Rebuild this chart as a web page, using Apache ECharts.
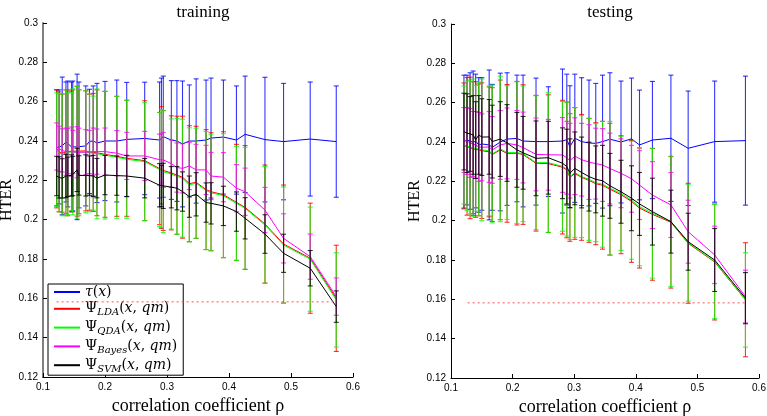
<!DOCTYPE html>
<html><head><meta charset="utf-8">
<script src="https://cdn.jsdelivr.net/npm/echarts@6/dist/echarts.min.js"></script>
<style>html,body{margin:0;padding:0;background:#fff}#c{width:767px;height:416px}</style>
</head><body><div id="c"></div>
<script>
// ---------- training panel ----------
const trainX = [0.122, 0.126, 0.131, 0.137, 0.140, 0.146, 0.148, 0.155, 0.158, 0.169, 0.175, 0.181, 0.187, 0.200, 0.219, 0.235, 0.264, 0.288, 0.291, 0.294, 0.307, 0.316, 0.325, 0.336, 0.347, 0.363, 0.371, 0.391, 0.412, 0.426, 0.458, 0.488, 0.531, 0.573];
const trainTauMean = [0.2365, 0.2370, 0.2375, 0.2395, 0.2385, 0.2370, 0.2375, 0.2370, 0.2380, 0.2375, 0.2398, 0.2400, 0.2390, 0.2400, 0.2400, 0.2408, 0.2413, 0.2405, 0.2400, 0.2422, 0.2405, 0.2400, 0.2385, 0.2400, 0.2400, 0.2405, 0.2415, 0.2420, 0.2405, 0.2434, 0.2407, 0.2397, 0.2410, 0.2397];
const trainTauStd = [0.0295, 0.0290, 0.0350, 0.0305, 0.0320, 0.0330, 0.0330, 0.0370, 0.0320, 0.0305, 0.0265, 0.0280, 0.0303, 0.0303, 0.0310, 0.0290, 0.0286, 0.0295, 0.0320, 0.0308, 0.0302, 0.0307, 0.0320, 0.0285, 0.0316, 0.0305, 0.0305, 0.0290, 0.0275, 0.0296, 0.0317, 0.0296, 0.0290, 0.0283];
const trainLdaMean = [0.2360, 0.2345, 0.2338, 0.2345, 0.2340, 0.2348, 0.2350, 0.2348, 0.2345, 0.2350, 0.2343, 0.2342, 0.2340, 0.2332, 0.2322, 0.2312, 0.2300, 0.2260, 0.2265, 0.2250, 0.2238, 0.2226, 0.2216, 0.2183, 0.2190, 0.2153, 0.2142, 0.2127, 0.2088, 0.2062, 0.1978, 0.1876, 0.1804, 0.1600];
const trainLdaStd = [0.0300, 0.0305, 0.0300, 0.0315, 0.0320, 0.0305, 0.0310, 0.0330, 0.0315, 0.0305, 0.0295, 0.0300, 0.0320, 0.0320, 0.0305, 0.0295, 0.0305, 0.0285, 0.0310, 0.0305, 0.0290, 0.0300, 0.0310, 0.0295, 0.0285, 0.0305, 0.0300, 0.0320, 0.0295, 0.0315, 0.0300, 0.0300, 0.0280, 0.0270];
const trainQdaMean = [0.2355, 0.2340, 0.2330, 0.2340, 0.2335, 0.2345, 0.2345, 0.2343, 0.2340, 0.2345, 0.2340, 0.2338, 0.2335, 0.2328, 0.2317, 0.2307, 0.2295, 0.2255, 0.2260, 0.2244, 0.2232, 0.2220, 0.2211, 0.2177, 0.2185, 0.2148, 0.2137, 0.2122, 0.2083, 0.2058, 0.1973, 0.1871, 0.1799, 0.1592];
const trainQdaStd = [0.0290, 0.0300, 0.0310, 0.0320, 0.0310, 0.0300, 0.0320, 0.0335, 0.0320, 0.0310, 0.0300, 0.0290, 0.0330, 0.0325, 0.0310, 0.0300, 0.0300, 0.0290, 0.0300, 0.0310, 0.0280, 0.0295, 0.0300, 0.0290, 0.0280, 0.0300, 0.0295, 0.0315, 0.0290, 0.0310, 0.0297, 0.0295, 0.0265, 0.0240];
const trainBayesMean = [0.2372, 0.2360, 0.2352, 0.2346, 0.2348, 0.2346, 0.2344, 0.2343, 0.2345, 0.2343, 0.2344, 0.2346, 0.2346, 0.2346, 0.2338, 0.2324, 0.2324, 0.2305, 0.2312, 0.2304, 0.2285, 0.2265, 0.2261, 0.2273, 0.2253, 0.2253, 0.2222, 0.2216, 0.2160, 0.2142, 0.2049, 0.1905, 0.1812, 0.1609];
const trainBayesStd = [0.0120, 0.0115, 0.0110, 0.0120, 0.0115, 0.0125, 0.0110, 0.0130, 0.0120, 0.0115, 0.0110, 0.0120, 0.0115, 0.0120, 0.0115, 0.0120, 0.0125, 0.0130, 0.0125, 0.0140, 0.0120, 0.0125, 0.0125, 0.0120, 0.0130, 0.0125, 0.0120, 0.0125, 0.0120, 0.0120, 0.0115, 0.0125, 0.0115, 0.0095];
const trainSvmMean = [0.2222, 0.2215, 0.2210, 0.2222, 0.2218, 0.2225, 0.2222, 0.2253, 0.2225, 0.2225, 0.2224, 0.2222, 0.2211, 0.2227, 0.2224, 0.2222, 0.2211, 0.2175, 0.2171, 0.2172, 0.2165, 0.2160, 0.2143, 0.2117, 0.2129, 0.2087, 0.2083, 0.2070, 0.2041, 0.2007, 0.1927, 0.1829, 0.1753, 0.1558];
const trainSvmStd = [0.0100, 0.0105, 0.0100, 0.0110, 0.0100, 0.0105, 0.0100, 0.0110, 0.0100, 0.0105, 0.0100, 0.0105, 0.0100, 0.0100, 0.0100, 0.0105, 0.0100, 0.0110, 0.0105, 0.0115, 0.0105, 0.0110, 0.0100, 0.0105, 0.0110, 0.0100, 0.0105, 0.0100, 0.0100, 0.0105, 0.0098, 0.0097, 0.0090, 0.0080];
const trainChance = [[0.122, 0.1582], [0.573, 0.1582]];

// ---------- testing panel ----------
const testX = [0.121, 0.126, 0.131, 0.136, 0.140, 0.145, 0.150, 0.162, 0.167, 0.180, 0.191, 0.207, 0.217, 0.238, 0.258, 0.281, 0.288, 0.293, 0.301, 0.312, 0.324, 0.335, 0.346, 0.358, 0.376, 0.393, 0.406, 0.427, 0.457, 0.485, 0.528, 0.578];
const testTauMean = [0.2402, 0.2410, 0.2405, 0.2398, 0.2405, 0.2385, 0.2390, 0.2385, 0.2373, 0.2400, 0.2415, 0.2418, 0.2405, 0.2402, 0.2402, 0.2405, 0.2412, 0.2376, 0.2419, 0.2402, 0.2395, 0.2393, 0.2402, 0.2414, 0.2400, 0.2416, 0.2385, 0.2410, 0.2419, 0.2368, 0.2402, 0.2407];
const testTauStd = [0.0338, 0.0330, 0.0347, 0.0363, 0.0340, 0.0342, 0.0337, 0.0381, 0.0320, 0.0350, 0.0337, 0.0322, 0.0335, 0.0323, 0.0279, 0.0366, 0.0333, 0.0310, 0.0326, 0.0325, 0.0320, 0.0305, 0.0338, 0.0338, 0.0310, 0.0309, 0.0279, 0.0298, 0.0321, 0.0291, 0.0308, 0.0328];
const testLdaMean = [0.2380, 0.2378, 0.2370, 0.2366, 0.2362, 0.2360, 0.2356, 0.2350, 0.2336, 0.2360, 0.2342, 0.2343, 0.2336, 0.2292, 0.2290, 0.2272, 0.2258, 0.2220, 0.2240, 0.2220, 0.2205, 0.2188, 0.2180, 0.2160, 0.2132, 0.2098, 0.2064, 0.2032, 0.1992, 0.1885, 0.1790, 0.1598];
const testLdaStd = [0.0320, 0.0350, 0.0360, 0.0340, 0.0345, 0.0335, 0.0345, 0.0330, 0.0340, 0.0355, 0.0350, 0.0365, 0.0355, 0.0345, 0.0350, 0.0340, 0.0345, 0.0325, 0.0335, 0.0320, 0.0315, 0.0310, 0.0325, 0.0335, 0.0300, 0.0310, 0.0305, 0.0335, 0.0335, 0.0305, 0.0295, 0.0290];
const testQdaMean = [0.2385, 0.2380, 0.2375, 0.2370, 0.2368, 0.2365, 0.2360, 0.2355, 0.2339, 0.2365, 0.2346, 0.2346, 0.2340, 0.2295, 0.2295, 0.2276, 0.2262, 0.2224, 0.2245, 0.2224, 0.2210, 0.2193, 0.2185, 0.2165, 0.2139, 0.2104, 0.2071, 0.2038, 0.1995, 0.1888, 0.1792, 0.1597];
const testQdaStd = [0.0300, 0.0330, 0.0340, 0.0350, 0.0320, 0.0340, 0.0360, 0.0330, 0.0350, 0.0370, 0.0340, 0.0360, 0.0345, 0.0340, 0.0355, 0.0330, 0.0340, 0.0320, 0.0330, 0.0310, 0.0310, 0.0300, 0.0320, 0.0340, 0.0290, 0.0300, 0.0300, 0.0330, 0.0330, 0.0297, 0.0290, 0.0240];
const testBayesMean = [0.2410, 0.2405, 0.2395, 0.2390, 0.2385, 0.2375, 0.2373, 0.2375, 0.2360, 0.2385, 0.2393, 0.2385, 0.2372, 0.2337, 0.2335, 0.2334, 0.2320, 0.2305, 0.2328, 0.2310, 0.2298, 0.2290, 0.2283, 0.2265, 0.2241, 0.2213, 0.2181, 0.2130, 0.2080, 0.1944, 0.1826, 0.1614];
const testBayesStd = [0.0165, 0.0170, 0.0175, 0.0165, 0.0170, 0.0175, 0.0170, 0.0180, 0.0170, 0.0175, 0.0180, 0.0175, 0.0180, 0.0185, 0.0180, 0.0190, 0.0185, 0.0190, 0.0195, 0.0185, 0.0190, 0.0180, 0.0185, 0.0180, 0.0175, 0.0170, 0.0175, 0.0170, 0.0165, 0.0160, 0.0146, 0.0134];
const testSvmMean = [0.2453, 0.2445, 0.2441, 0.2436, 0.2410, 0.2436, 0.2425, 0.2426, 0.2402, 0.2415, 0.2395, 0.2360, 0.2345, 0.2317, 0.2320, 0.2292, 0.2275, 0.2241, 0.2266, 0.2245, 0.2224, 0.2210, 0.2203, 0.2177, 0.2147, 0.2114, 0.2085, 0.2046, 0.1995, 0.1893, 0.1800, 0.1606];
const testSvmStd = [0.0195, 0.0200, 0.0190, 0.0200, 0.0195, 0.0200, 0.0195, 0.0190, 0.0185, 0.0190, 0.0195, 0.0190, 0.0185, 0.0190, 0.0185, 0.0180, 0.0190, 0.0175, 0.0185, 0.0180, 0.0175, 0.0170, 0.0180, 0.0165, 0.0160, 0.0165, 0.0160, 0.0170, 0.0160, 0.0145, 0.0160, 0.0130];
const testChance = [[0.127, 0.1582], [0.578, 0.1582]];

// ---------- labels ----------
const panelTitles = ['training', 'testing'];
const xAxisName = 'correlation coefficient \u03c1';
const yAxisName = 'HTER';
const methodNames = ['tau', 'LDA', 'QDA', 'Bayes', 'SVM'];
const methodColors = ['#0000ff', '#ff0000', '#00ff00', '#ff00ff', '#000000'];
const legendRich = {
  tau: '{i|\u03c4}{n|(}{i|x}{n|)}',
  LDA: '{n|\u03a8}{s|LDA}{n|(}{i|x}{n|, }{i|qm}{n|)}',
  QDA: '{n|\u03a8}{s|QDA}{n|(}{i|x}{n|, }{i|qm}{n|)}',
  Bayes: '{n|\u03a8}{s|Bayes}{n|(}{i|x}{n|, }{i|qm}{n|)}',
  SVM: '{n|\u03a8}{s|SVM}{n|(}{i|x}{n|, }{i|qm}{n|)}'
};

const panels = [
  {x: trainX, means: [trainTauMean, trainLdaMean, trainQdaMean, trainBayesMean, trainSvmMean],
   stds: [trainTauStd, trainLdaStd, trainQdaStd, trainBayesStd, trainSvmStd], chance: trainChance},
  {x: testX, means: [testTauMean, testLdaMean, testQdaMean, testBayesMean, testSvmMean],
   stds: [testTauStd, testLdaStd, testQdaStd, testBayesStd, testSvmStd], chance: testChance}
];

const SERIF = "'Liberation Serif', 'DejaVu Serif', serif";
const LSERIF = "'DejaVu Serif', 'Liberation Serif', serif";
const SANS = "'Liberation Sans', Arial, sans-serif";

function errRender(color) {
  return function (params, api) {
    const x = api.value(0), m = api.value(1), s = api.value(2);
    const t = api.coord([x, m + s]);
    const b = api.coord([x, m - s]);
    const w = 2.5;
    const st = {stroke: color, lineWidth: 1.1, opacity: 0.8};
    return {type: 'group', children: [
      {type: 'line', shape: {x1: t[0], y1: t[1], x2: b[0], y2: b[1]}, style: st},
      {type: 'line', shape: {x1: t[0] - w, y1: t[1], x2: t[0] + w, y2: t[1]}, style: st},
      {type: 'line', shape: {x1: b[0] - w, y1: b[1], x2: b[0] + w, y2: b[1]}, style: st}
    ]};
  };
}

const series = [];
panels.forEach((p, pi) => {
  methodNames.forEach((name, mi) => {
    const color = methodColors[mi];
    series.push({
      type: 'custom', name: name + '_err' + pi, xAxisIndex: pi, yAxisIndex: pi,
      data: p.x.map((x, i) => [x, p.means[mi][i], p.stds[mi][i]]),
      encode: {x: 0, y: 1}, renderItem: errRender(color), silent: true, z: 2 + mi
    });
    series.push({
      type: 'line', name: name, xAxisIndex: pi, yAxisIndex: pi,
      data: p.x.map((x, i) => [x, p.means[mi][i]]),
      showSymbol: false, symbol: 'none',
      lineStyle: {color: color, width: 1}, itemStyle: {color: color}, z: 2 + mi
    });
  });
  series.push({
    type: 'line', name: 'chance' + pi, xAxisIndex: pi, yAxisIndex: pi,
    data: p.chance, showSymbol: false, symbol: 'none',
    lineStyle: {color: '#ff5050', width: 1, type: [2, 3]}, z: 8
  });
});

function xAx(gi) {
  return {
    type: 'value', gridIndex: gi, min: 0.1, max: 0.6, interval: 0.1,
    axisLine: {lineStyle: {color: '#000', width: 1}},
    axisTick: {inside: true, length: 4, lineStyle: {color: '#000'}},
    axisLabel: {fontFamily: SANS, fontSize: 10, color: '#000', margin: 5},
    splitLine: {show: false},
    name: xAxisName, nameLocation: 'middle', nameGap: 16,
    nameTextStyle: {fontFamily: SERIF, fontSize: 18, color: '#000'}
  };
}
function yAx(gi, gap, lineColor, lw) {
  return {
    type: 'value', gridIndex: gi, min: 0.12, max: 0.3, interval: 0.02,
    axisLine: {show: true, lineStyle: {color: lineColor, width: lw}},
    axisTick: {show: true, inside: true, length: 4, lineStyle: {color: '#000'}},
    axisLabel: {fontFamily: SANS, fontSize: 10, color: '#000', margin: 5},
    splitLine: {show: false},
    name: yAxisName, nameLocation: 'middle', nameGap: gap, nameRotate: 90,
    nameTextStyle: {fontFamily: SERIF, fontSize: 16, color: '#000'}
  };
}

const chart = echarts.init(document.getElementById('c'), null, {renderer: 'canvas'});
chart.setOption({
  animation: false,
  backgroundColor: '#fff',
  title: [
    {text: panelTitles[0], left: 198, top: -1, textAlign: 'center',
     textStyle: {fontFamily: SERIF, fontSize: 17, fontWeight: 'normal', color: '#000'}},
    {text: panelTitles[1], left: 605, top: -1, textAlign: 'center',
     textStyle: {fontFamily: SERIF, fontSize: 17, fontWeight: 'normal', color: '#000'}}
  ],
  grid: [
    {left: 43, right: 414, top: 23, bottom: 39, containLabel: false, outerBoundsMode: 'none'},
    {left: 451, right: 8, top: 24, bottom: 38, containLabel: false, outerBoundsMode: 'none'}
  ],
  xAxis: [xAx(0), xAx(1)],
  yAxis: [yAx(0, 18, '#808080', 2), yAx(1, 14, '#000', 1)],
  legend: {
    left: 48, top: 284, orient: 'vertical', backgroundColor: '#fff',
    borderColor: '#000', borderWidth: 1, borderRadius: 0,
    padding: [1, 6, 1, 6], itemGap: 2.8, itemWidth: 26, itemHeight: 2, icon: 'rect',
    data: methodNames,
    formatter: (n) => legendRich[n],
    textStyle: {
      fontFamily: LSERIF, fontSize: 14, color: '#000',
      rich: {
        n: {fontFamily: LSERIF, fontSize: 14, lineHeight: 18, color: '#000'},
        i: {fontFamily: LSERIF, fontSize: 14, fontStyle: 'italic', lineHeight: 18, color: '#000'},
        s: {fontFamily: LSERIF, fontSize: 10, fontStyle: 'italic', lineHeight: 12, verticalAlign: 'bottom', color: '#000'}
      }
    }
  },
  series: series
});
</script>
</body></html>
